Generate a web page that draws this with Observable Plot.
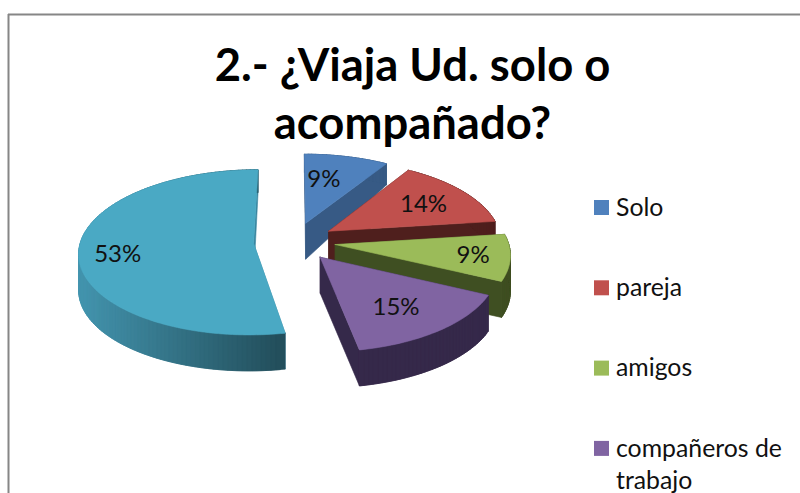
<!DOCTYPE html>
<html><head><meta charset="utf-8">
<script src="https://cdn.jsdelivr.net/npm/d3@7"></script>
<script src="https://cdn.jsdelivr.net/npm/@observablehq/plot@0.6"></script>
<style>html,body{margin:0;padding:0;background:#fff;overflow:hidden}svg{display:block}</style>
</head><body><div id="chart"></div>
<script>
const titleLines = ["2.- ¿Viaja Ud. solo o", "acompañado?"];
const categories = ["Solo", "pareja", "amigos", "compañeros de\ntrabajo", ""];
const values = [9, 14, 9, 15, 53];
const topColors = ["#4f81bd", "#c0504d", "#9bbb59", "#8064a2", "#4aa9c4"];
const wallColors = ["#375a85", "#4f1f1d", "#3f4f22", "#35294a", "#3a86a0"];
const labelReach = [0.62, 0.68, 0.79, 0.68, 0.78];
const labelTurn = [-5, 2, 0, 2, -4];
const drawOrder = [0, 1, 2, 4, 3];

const W = 800, H = 493;
const cx = 294, cy = 241, R = 173, explode = 41, tilt = 0.475, persp = 1580;
const project = (X, Y) => { const p = 1 + Y / persp; return [cx + X * p, cy + Y * tilt * p]; };
const depthAt = Y => Math.min(36, 36 + (Y + 40) * 15 / 147);

const total = d3.sum(values);
let acc = 0;
const slices = values.map((v, i) => {
  const a0 = acc / total * 2 * Math.PI; acc += v;
  const a1 = acc / total * 2 * Math.PI;
  const mid = (a0 + a1) / 2;
  return {i, a0, a1, mid, ox: explode * Math.sin(mid), oy: -explode * Math.cos(mid), pct: Math.round(v / total * 100) + "%"};
});
const ground = (s, a, r = R) => [s.ox + r * Math.sin(a), s.oy - r * Math.cos(a)];
const topPt = (s, a, r) => project(...ground(s, a, r));
const lowPt = (s, a, r) => { const [X, Y] = ground(s, a, r); const [x, y] = project(X, Y); return [x, y + depthAt(Y)]; };

const polys = [];
let n = 0;
const addPoly = (pts, fill) => { const id = n++; [...pts, pts[0]].forEach(([x, y]) => polys.push({id, x, y, fill})); };
const tealRamp = d3.interpolateRgb("#4496b0", "#234f5c");
for (const k of drawOrder) {
  const s = slices[k];
  const steps = Math.max(4, Math.round((s.a1 - s.a0) * 40));
  const angles = d3.range(steps + 1).map(j => s.a0 + (s.a1 - s.a0) * j / steps);
  addPoly([topPt(s, s.a0, 0), topPt(s, s.a0), lowPt(s, s.a0), lowPt(s, s.a0, 0)], wallColors[k]);
  addPoly([topPt(s, s.a1, 0), topPt(s, s.a1), lowPt(s, s.a1), lowPt(s, s.a1, 0)], wallColors[k]);
  const xs = angles.map(a => topPt(s, a)[0]);
  const xMin = d3.min(xs), xMax = d3.max(xs);
  for (let j = steps - 1; j >= 0; j--) {
    const fill = k === 4 ? tealRamp((xs[j] - xMin) / (xMax - xMin)) : wallColors[k];
    const far = Math.min(j + 2, steps);
    addPoly([topPt(s, angles[j]), topPt(s, angles[far]), lowPt(s, angles[far]), lowPt(s, angles[j])], fill);
  }
  addPoly([topPt(s, 0, 0), ...angles.map(a => topPt(s, a))], topColors[k]);
}

const pctLabels = slices.map(s => {
  const a = s.mid + labelTurn[s.i] * Math.PI / 180;
  const [x, y] = topPt(s, a, R * labelReach[s.i]);
  return {x, y, t: s.pct};
});
const legendX = 594, legendTop = 200, legendStep = 80.3, swatch = 15;
const legend = categories.slice(0, 4).map((name, i) => ({name, i, y: legendTop + i * legendStep}));

const frameX = 8, frameY = 14;
const font = "Lato, Carlito, Calibri, sans-serif";
const chart = Plot.plot({
  width: W, height: H, margin: 0,
  x: {domain: [0, W], range: [0, W], axis: null},
  y: {domain: [0, H], range: [0, H], axis: null},
  color: {type: "identity"},
  marks: [
    Plot.ruleX([frameX], {y1: frameY, y2: H, stroke: "#868686", strokeWidth: 2}),
    Plot.ruleY([frameY], {x1: frameX, x2: W, stroke: "#868686", strokeWidth: 2}),
    Plot.line(polys, {x: "x", y: "y", z: "id", fill: "fill", stroke: "fill", strokeWidth: 0.6}),
    Plot.text(pctLabels, {x: "x", y: "y", text: "t", fontSize: 24, fontFamily: font, fill: "#111"}),
    Plot.text(titleLines, {x: () => 412, y: (d, i) => 66 + i * 58, text: d => d, fontSize: 45.4, fontWeight: 700, fontFamily: font, fill: "#000"}),
    Plot.rect(legend, {x1: () => legendX, x2: () => legendX + swatch, y1: "y", y2: d => d.y + swatch, fill: (d) => topColors[d.i]}),
    Plot.text(legend, {x: () => 615.5, y: d => d.y - 7.5, text: "name", textAnchor: "start", lineAnchor: "top", lineHeight: 1.3, fontSize: 24.8, fontFamily: font, fill: "#111"})
  ]
});
document.getElementById("chart").append(chart);
</script></body></html>
